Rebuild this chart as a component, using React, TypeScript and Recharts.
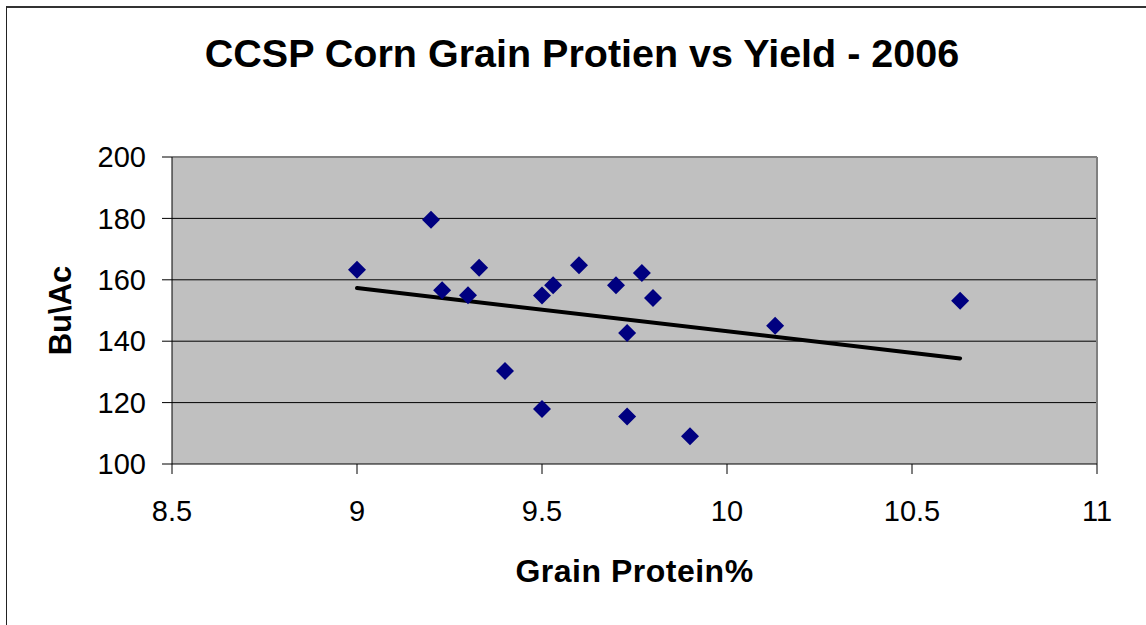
import { CartesianGrid, ReferenceLine, Scatter, ScatterChart, XAxis, YAxis } from "recharts";

const protein = [9.0, 9.2, 9.23, 9.3, 9.33, 9.4, 9.5, 9.5, 9.53, 9.6, 9.7, 9.77, 9.8, 9.73, 9.73, 9.9, 10.13, 10.63];
const yieldBu = [163.3, 179.6, 156.6, 155.0, 163.9, 130.3, 154.9, 117.9, 158.2, 164.7, 158.2, 162.2, 154.1, 142.7, 115.5, 109.0, 145.0, 153.2];

// trendline end points
const trendX = [9.0, 10.63];
const trendY = [157.3, 134.4];

const xTicks = [8.5, 9, 9.5, 10, 10.5, 11];
const yTicks = [100, 120, 140, 160, 180, 200];

const points = protein.map((x, i) => ({ x, y: yieldBu[i] }));
const trend = trendX.map((x, i) => ({ x, y: trendY[i] }));

const FONT = "'Liberation Sans', Arial, sans-serif";

const Diamond = (props: any) => {
  const { cx, cy } = props;
  if (cx == null || cy == null) return null;
  const r = 9;
  return (
    <polygon
      points={`${cx},${cy - r} ${cx + r},${cy} ${cx},${cy + r} ${cx - r},${cy}`}
      fill="#000080"
    />
  );
};

export default function App() {
  return (
    <div style={{ position: "absolute", left: 0, top: 0, width: 1146, height: 625, background: "#fff", fontFamily: FONT }}>
      <div
        style={{
          position: "absolute",
          left: 6,
          top: 6,
          width: 1150,
          height: 640,
          borderLeft: "1.5px solid #222",
          borderTop: "2px solid #333",
        }}
      />
      <div
        style={{
          position: "absolute",
          left: 0,
          top: 34,
          width: 1164,
          textAlign: "center",
          fontSize: 39.5,
          lineHeight: "39.5px",
          fontWeight: "bold",
          color: "#000",
        }}
      >
        CCSP Corn Grain Protien vs Yield - 2006
      </div>
      <div style={{ position: "absolute", left: 0, top: 0 }}>
        <ScatterChart width={1146} height={625} margin={{ top: 157, right: 49, bottom: 0, left: 0 }}>
          <CartesianGrid fill="#C0C0C0" stroke="#000" vertical={false} horizontalValues={[120, 140, 160, 180]} />
          <ReferenceLine y={200} stroke="#808080" strokeWidth={2} />
          <ReferenceLine x={11} stroke="#808080" strokeWidth={2} />
          <XAxis
            type="number"
            dataKey="x"
            domain={[8.5, 11]}
            ticks={xTicks}
            interval={0}
            height={161}
            tickSize={10}
            tickMargin={26}
            stroke="#000"
            tick={{ fill: "#000", fontSize: 29, fontFamily: FONT }}
            label={{
              value: "Grain Protein%",
              position: "insideBottom",
              offset: 43,
              style: { fontSize: 32, letterSpacing: 0.5, fontWeight: "bold", fill: "#000", fontFamily: FONT },
            }}
          />
          <YAxis
            type="number"
            dataKey="y"
            domain={[100, 200]}
            ticks={yTicks}
            interval={0}
            width={172}
            tickSize={10}
            tickMargin={16}
            stroke="#000"
            tick={{ fill: "#000", fontSize: 29, fontFamily: FONT }}
            label={{
              value: "Bu\\Ac",
              angle: -90,
              position: "insideLeft",
              offset: 60,
              style: { textAnchor: "middle", fontSize: 31, fontWeight: "bold", fill: "#000", fontFamily: FONT },
            }}
          />
          <Scatter
            data={trend}
            line={{ stroke: "#000", strokeWidth: 4, strokeLinecap: "round" }}
            shape={() => null}
            isAnimationActive={false}
          />
          <Scatter data={points} shape={<Diamond />} isAnimationActive={false} />
        </ScatterChart>
      </div>
    </div>
  );
}
